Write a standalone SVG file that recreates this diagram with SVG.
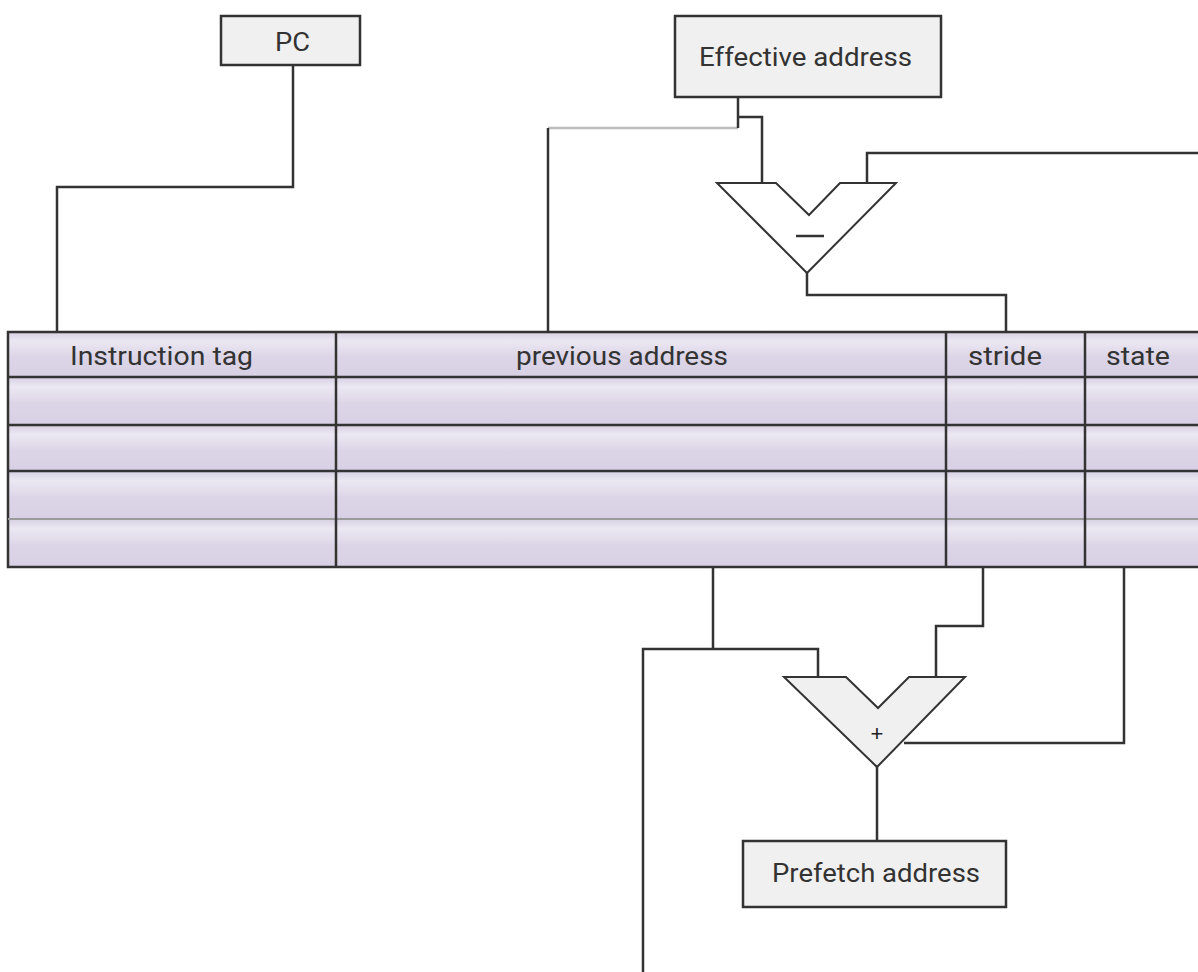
<svg xmlns="http://www.w3.org/2000/svg" width="1198" height="972" viewBox="0 0 1198 972">
<defs>
<linearGradient id="rowg" x1="0" y1="0" x2="0" y2="1">
<stop offset="0" stop-color="#d6cfe2"/>
<stop offset="0.2" stop-color="#ece8f2"/>
<stop offset="0.55" stop-color="#dcd5e7"/>
<stop offset="1" stop-color="#d8d0e4"/>
</linearGradient>
</defs>
<style>
.box{fill:#f0f0f0;stroke:#333;stroke-width:2.5}
.ln{fill:none;stroke:#333;stroke-width:2.5}
.lg{fill:none;stroke:#bdbdbd;stroke-width:2.5}
.t{font-family:Roboto,"Liberation Sans",sans-serif;font-size:26px;font-weight:400;fill:#333}
.row{fill:url(#rowg)}
.grid{fill:none;stroke:#333;stroke-width:2.5}
</style>
<rect width="1198" height="972" fill="#fff"/>
<g id="connectors">
<polyline class="ln" points="293,65 293,187 57,187 57,332"/>
<polyline class="lg" points="738,128 548,128"/>
<polyline class="ln" points="548,128 548,332"/>
<polyline class="ln" points="738,97 738,128"/>
<polyline class="ln" points="738,117 762,117 762,183"/>
<polyline class="ln" points="867,183 867,153 1200,153"/>
<polyline class="ln" points="807,273 807,295 1006,295 1006,332"/>
<polyline class="ln" points="713,567 713,649"/>
<polyline class="ln" points="643,972 643,649 818,649 818,677"/>
<polyline class="ln" points="983,567 983,626 936,626 936,677"/>
<polyline class="ln" points="1124,567 1124,743 904,743"/>
<polyline class="ln" points="877,767 877,841"/>
</g>
<g id="pc">
<rect class="box" x="221" y="16" width="139" height="49"/>
<text class="t" x="275" y="51" textLength="35" lengthAdjust="spacingAndGlyphs">PC</text>
</g>
<g id="effective-address">
<rect class="box" x="675" y="16" width="266" height="81"/>
<text class="t" x="699" y="66" textLength="213" lengthAdjust="spacingAndGlyphs">Effective address</text>
</g>
<g id="subtractor">
<polygon points="717,183 776,183 809,215 840,183 896,183 807,273" fill="#fff" stroke="#333" stroke-width="2"/>
<line x1="796" y1="236" x2="824" y2="236" stroke="#333" stroke-width="2.5"/>
</g>
<g id="table">
<rect class="row" x="8" y="332" width="1192" height="45"/>
<rect class="row" x="8" y="377" width="1192" height="48"/>
<rect class="row" x="8" y="425" width="1192" height="46"/>
<rect class="row" x="8" y="471" width="1192" height="48"/>
<rect class="row" x="8" y="519" width="1192" height="48"/>
<polyline class="grid" points="1200,332 8,332 8,567 1200,567"/>
<line class="grid" x1="8" y1="377" x2="1200" y2="377"/>
<line class="grid" x1="8" y1="425" x2="1200" y2="425"/>
<line class="grid" x1="8" y1="471" x2="1200" y2="471"/>
<line x1="8" y1="519" x2="1200" y2="519" stroke="#9a9a9a" stroke-width="2"/>
<line class="grid" x1="336" y1="332" x2="336" y2="567"/>
<line class="grid" x1="946" y1="332" x2="946" y2="567"/>
<line class="grid" x1="1085" y1="332" x2="1085" y2="567"/>
<text class="t" x="70" y="365" textLength="183" lengthAdjust="spacingAndGlyphs">Instruction tag</text>
<text class="t" x="516" y="365" textLength="212" lengthAdjust="spacingAndGlyphs">previous address</text>
<text class="t" x="968" y="365" textLength="74" lengthAdjust="spacingAndGlyphs">stride</text>
<text class="t" x="1106" y="365" textLength="64" lengthAdjust="spacingAndGlyphs">state</text>
</g>
<g id="adder">
<polygon points="784,677 846,677 878,708 909,677 965,677 877,767" fill="#f0f0f0" stroke="#333" stroke-width="2"/>
<text x="877" y="741" text-anchor="middle" font-family="'Liberation Sans',sans-serif" font-size="22" fill="#222">+</text>
</g>
<g id="prefetch-address">
<rect class="box" x="743" y="841" width="263" height="66"/>
<text class="t" x="772" y="882" textLength="208" lengthAdjust="spacingAndGlyphs">Prefetch address</text>
</g>
</svg>
